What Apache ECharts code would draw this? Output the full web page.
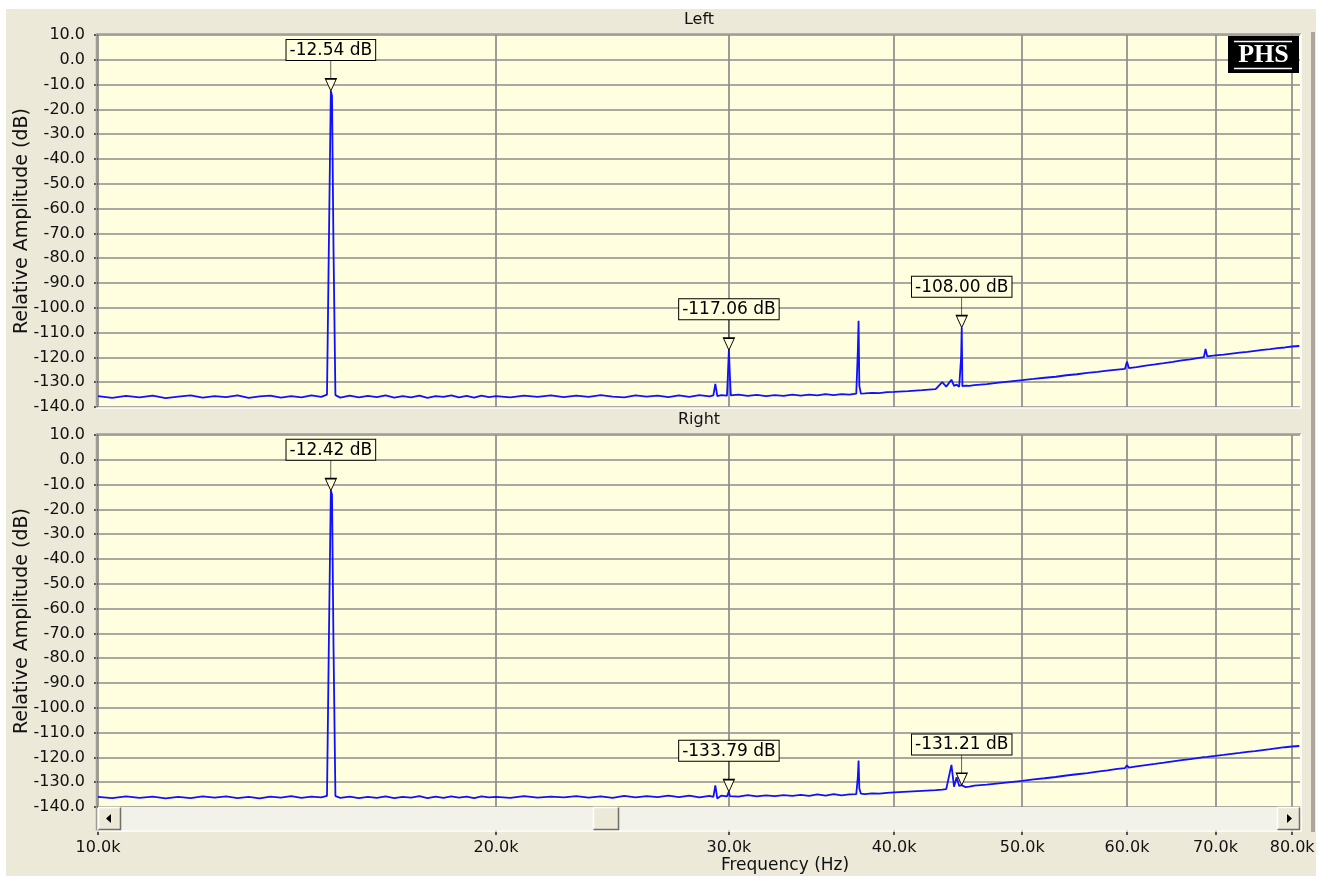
<!DOCTYPE html>
<html>
<head>
<meta charset="utf-8">
<script src="https://cdn.jsdelivr.net/npm/echarts@6/dist/echarts.min.js"></script>
<style>
html, body { margin: 0; padding: 0; background: #ffffff; }
#chart { width: 1331px; height: 876px; }
</style>
</head>
<body>
<div id="chart"></div>
<script>
// Frequency of each spectrum bin, in kHz (shared by both channels)
const freqK = [
  10.00, 10.25, 10.50, 10.75, 11.00, 11.25, 11.50, 11.75, 12.00, 12.25,
  12.50, 12.75, 13.00, 13.25, 13.50, 13.75, 14.00, 14.25, 14.50, 14.75,
  14.90, 14.95, 15.00, 15.03, 15.07, 15.12, 15.25, 15.50, 15.75, 16.00,
  16.25, 16.50, 16.75, 17.00, 17.25, 17.50, 17.75, 18.00, 18.25, 18.50,
  18.75, 19.00, 19.25, 19.50, 19.75, 20.00, 20.50, 21.00, 21.50, 22.00,
  22.50, 23.00, 23.50, 24.00, 24.50, 25.00, 25.50, 26.00, 26.50, 27.00,
  27.50, 28.00, 28.50, 29.00, 29.20, 29.30, 29.40, 29.60, 29.90, 29.95,
  30.00, 30.05, 30.10, 30.50, 31.00, 31.50, 32.00, 32.50, 33.00, 33.50,
  34.00, 34.50, 35.00, 35.50, 36.00, 36.50, 37.00, 37.45, 37.55, 37.60,
  37.65, 37.75, 38.00, 38.50, 39.00, 39.50, 40.00, 41.00, 42.00, 43.00,
  43.50, 43.80, 44.20, 44.40, 44.60, 44.80, 44.95, 45.00, 45.05, 45.30,
  45.60, 46.00, 47.00, 48.00, 49.00, 50.00, 51.00, 52.00, 53.00, 54.00,
  55.00, 56.00, 57.00, 58.00, 59.00, 59.80, 60.00, 60.20, 61.00, 62.00,
  63.00, 64.00, 65.00, 66.00, 67.00, 68.00, 68.60, 68.80, 69.00, 70.00,
  71.00, 72.00, 73.00, 74.00, 75.00, 76.00, 77.00, 78.00, 79.00, 80.00,
  81.00
];

// Left channel relative amplitude, dB
const leftDb = [
  -135.6, -136.3, -135.5, -136.1, -135.4, -136.4, -135.8, -135.3, -136.2, -135.6,
  -136.0, -135.3, -136.3, -135.7, -135.4, -136.2, -135.6, -136.1, -135.3, -135.9,
  -135.0, -72.7, -12.54, -14.5, -76.5, -135.2, -136.2, -135.4, -136.1, -135.5,
  -136.0, -135.3, -136.2, -135.6, -136.1, -135.4, -136.3, -135.6, -135.9, -135.3,
  -136.1, -135.5, -136.2, -135.4, -136.0, -135.6, -136.1, -135.4, -135.9, -135.3,
  -136.0, -135.4, -135.9, -135.2, -135.8, -136.1, -135.3, -135.8, -135.4, -136.0,
  -135.3, -135.9, -135.2, -135.7, -135.3, -130.7, -135.6, -135.2, -135.4, -126.7,
  -117.06, -127.0, -135.3, -135.0, -135.5, -135.1, -135.6, -135.2, -135.5, -135.0,
  -135.4, -135.0, -135.3, -134.8, -135.2, -134.8, -135.0, -134.6, -117.7, -105.2,
  -131.5, -134.6, -134.5, -134.3, -134.4, -134.0, -133.9, -133.6, -133.2, -132.8,
  -130.0, -131.8, -129.0, -131.5, -131.0, -131.8, -120.0, -108.00, -131.6, -131.4,
  -131.5, -131.2, -130.8, -130.2, -129.7, -129.2, -128.7, -128.2, -127.8, -127.2,
  -126.8, -126.2, -125.8, -125.3, -124.9, -124.6, -121.7, -124.3, -123.9, -123.3,
  -122.8, -122.3, -121.8, -121.2, -120.8, -120.2, -119.9, -116.6, -119.6, -119.2,
  -118.9, -118.5, -118.1, -117.8, -117.4, -117.0, -116.7, -116.3, -116.0, -115.6,
  -115.4
];

// Right channel relative amplitude, dB
const rightDb = [
  -135.9, -136.4, -135.7, -136.3, -135.8, -136.5, -135.9, -136.4, -135.7, -136.2,
  -135.7, -136.4, -135.9, -136.5, -135.8, -136.2, -135.6, -136.3, -135.8, -136.1,
  -135.5, -71.5, -12.42, -14.0, -75.5, -135.6, -136.3, -135.8, -136.4, -135.9,
  -136.3, -135.7, -136.4, -135.9, -136.2, -135.6, -136.4, -135.8, -136.3, -135.7,
  -136.2, -135.8, -136.4, -135.7, -136.1, -135.9, -136.3, -135.6, -136.2, -135.8,
  -136.1, -135.6, -136.2, -135.7, -136.3, -135.5, -136.1, -135.6, -136.0, -135.4,
  -136.0, -135.4, -136.1, -135.5, -135.9, -131.3, -136.6, -135.4, -135.7, -135.2,
  -133.79, -135.6, -135.3, -135.8, -135.2, -135.7, -135.3, -135.6, -135.2, -135.5,
  -135.1, -135.5, -134.9, -135.4, -134.8, -135.3, -134.9, -134.8, -128.0, -121.3,
  -132.5, -134.6, -134.8, -134.5, -134.6, -134.3, -134.1, -133.8, -133.5, -133.2,
  -133.0, -132.8, -123.0, -131.8, -128.0, -131.5, -132.0, -131.21, -131.7, -132.0,
  -131.8, -131.4, -131.0, -130.5, -130.0, -129.5, -128.9, -128.4, -127.9, -127.3,
  -126.8, -126.3, -125.7, -125.2, -124.6, -124.3, -123.2, -124.1, -123.6, -123.1,
  -122.6, -122.1, -121.6, -121.1, -120.7, -120.2, -119.9, -119.1, -119.8, -119.4,
  -119.0, -118.6, -118.2, -117.8, -117.5, -117.1, -116.7, -116.3, -115.9, -115.6,
  -115.4
];

// Bins that carry a level readout
const markerFreqK = [15.00, 30.00, 45.00];

// Axis settings
const xTickK = [10, 20, 30, 40, 50, 60, 70, 80];
const xMinK = 10;
const xMaxK = 81.1;
const yMin = -140;
const yMax = 10;
const yStep = 10;
const panelTitles = ['Left', 'Right'];
const channels = [leftDb, rightDb];

const FONT = '"DejaVu Sans", "Liberation Sans", sans-serif';
const PLOT_BG = '#ffffe0';
const FRAME_BG = '#ece9d8';
const GRID_LINE = '#8c8c8c';
const TRACE = '#1010ff';

const plotLeft = 98, plotRight = 1300;
const panelTops = [35, 435];
const panelH = 372;

const toPairs = vals => freqK.map((f, i) => [f, vals[i]]);
const toMarkers = vals => markerFreqK.map(f => {
  const i = freqK.indexOf(f);
  return { coord: [f, vals[i]], value: vals[i] };
});

const grids = panelTops.map(top => ({
  left: plotLeft, width: plotRight - plotLeft, top: top, height: panelH,
  containLabel: false,
  outerBoundsMode: 'none',
  show: true, backgroundColor: PLOT_BG, borderWidth: 0
}));

const xAxes = panelTops.map((_, g) => ({
  gridIndex: g,
  type: 'log',
  logBase: 10,
  min: xMinK,
  max: xMaxK,
  position: 'bottom',
  offset: g === 1 ? 23 : 0,
  axisLine: { show: false, onZero: false },
  axisTick: {
    show: g === 1, customValues: xTickK, length: 5,
    lineStyle: { color: '#222', width: 1.5 }
  },
  axisLabel: {
    show: g === 1, customValues: xTickK, margin: 10,
    formatter: v => Number(v).toFixed(1) + 'k',
    fontFamily: FONT, fontSize: 16, color: '#111'
  },
  splitLine: { show: true, lineStyle: { color: GRID_LINE, width: 1.7 } },
  minorTick: { show: false },
  minorSplitLine: { show: false }
}));

const yAxes = panelTops.map((_, g) => ({
  gridIndex: g,
  type: 'value',
  min: yMin,
  max: yMax,
  interval: yStep,
  name: 'Relative Amplitude (dB)',
  nameLocation: 'middle',
  nameRotate: 90,
  nameGap: 66,
  nameMoveOverlap: false,
  nameTextStyle: { fontFamily: FONT, fontSize: 19, color: '#111' },
  axisLine: { show: false, onZero: false },
  axisTick: { show: true, length: 4, lineStyle: { color: '#222', width: 1.5 } },
  axisLabel: {
    formatter: v => v.toFixed(1), margin: 13,
    fontFamily: FONT, fontSize: 16, color: '#111'
  },
  splitLine: { show: true, lineStyle: { color: GRID_LINE, width: 1.7 } }
}));

const series = channels.map((vals, g) => ({
  type: 'line',
  name: panelTitles[g],
  xAxisIndex: g,
  yAxisIndex: g,
  data: toPairs(vals),
  symbol: 'none',
  showSymbol: false,
  clip: true,
  lineStyle: { color: TRACE, width: 1.8 },
  z: 3,
  markPoint: {
    symbol: 'path://M5.5,0L5.5,18M0,18L11,18L5.5,30Z',
    symbolSize: [11, 30],
    symbolOffset: [0, -15],
    itemStyle: { color: PLOT_BG, borderColor: '#000', borderWidth: 1 },
    label: {
      show: true,
      position: 'top',
      distance: 0,
      formatter: p => Number(p.value).toFixed(2) + ' dB',
      fontFamily: FONT,
      fontSize: 17,
      color: '#000',
      backgroundColor: PLOT_BG,
      borderColor: '#000',
      borderWidth: 1,
      padding: [2, 3, 1, 3]
    },
    data: toMarkers(vals)
  }
}));

// Window furniture: frame, panel captions, bevels, logo and scroll bar
function bevel(x0, y0, x1, y1, light, dark, z) {
  return [
    { type: 'polyline', z: z, silent: true,
      shape: { points: [[x0, y1], [x0, y0], [x1, y0]] },
      style: { stroke: dark, lineWidth: 1.5, fill: null } },
    { type: 'polyline', z: z, silent: true,
      shape: { points: [[x1, y0], [x1, y1], [x0, y1]] },
      style: { stroke: light, lineWidth: 1.5, fill: null } }
  ];
}

function button(x, y, w, h, z) {
  return [
    { type: 'rect', z: z, silent: true, shape: { x: x, y: y, width: w, height: h },
      style: { fill: FRAME_BG } },
    ...bevel(x + 0.5, y + 0.5, x + w - 0.5, y + h - 0.5, '#716f64', '#ffffff', z + 1)
  ];
}

const sbTop = 807, sbH = 23;
const graphics = [
  { type: 'rect', z: -10, silent: true, shape: { x: 6, y: 9, width: 1310, height: 867 },
    style: { fill: FRAME_BG } },
  { type: 'rect', z: -9, silent: true, shape: { x: 1311, y: 32, width: 4, height: 800 },
    style: { fill: '#aca899' } },
  ...panelTops.map((top, g) => ({
    type: 'text', z: 5, silent: true, x: (plotLeft + plotRight) / 2, y: top - 15,
    style: { text: panelTitles[g], font: '16px ' + FONT, fill: '#111',
      align: 'center', verticalAlign: 'middle' }
  })),
  ...bevel(96.5, 34, 1301, 408, '#ffffff', '#a09d92', 4),
  ...bevel(96.5, 434, 1301, 831, '#ffffff', '#a09d92', 4),
  // scroll bar under the lower panel
  { type: 'rect', z: 20, silent: true, shape: { x: plotLeft, y: sbTop, width: plotRight - plotLeft, height: sbH },
    style: { fill: '#f2f1ea' } },
  ...button(plotLeft, sbTop, 23, sbH, 21),
  { type: 'polygon', z: 23, silent: true, shape: { points: [[106, 818.5], [111, 814], [111, 823]] },
    style: { fill: '#000' } },
  ...button(593, sbTop, 26, sbH, 21),
  ...button(plotRight - 23, sbTop, 23, sbH, 21),
  { type: 'polygon', z: 23, silent: true, shape: { points: [[1292, 818.5], [1287, 814], [1287, 823]] },
    style: { fill: '#000' } },
  { type: 'text', z: 5, silent: true, x: 785, y: 866,
    style: { text: 'Frequency (Hz)', font: '17px ' + FONT, fill: '#111',
      align: 'center', verticalAlign: 'middle' } },
  // logo
  { type: 'rect', z: 30, silent: true, shape: { x: 1228, y: 36, width: 71, height: 37 },
    style: { fill: '#000' } },
  { type: 'line', z: 31, silent: true, shape: { x1: 1234, y1: 41.5, x2: 1292, y2: 41.5 },
    style: { stroke: '#fff', lineWidth: 1.5 } },
  { type: 'line', z: 31, silent: true, shape: { x1: 1234, y1: 68.5, x2: 1292, y2: 68.5 },
    style: { stroke: '#fff', lineWidth: 1.5 } },
  { type: 'text', z: 31, silent: true, x: 1263.5, y: 55.5,
    style: { text: 'PHS', font: 'bold 26px "Liberation Serif", "DejaVu Serif", serif', fill: '#fff',
      align: 'center', verticalAlign: 'middle' } }
];

const chart = echarts.init(document.getElementById('chart'), null, { renderer: 'canvas' });
chart.setOption({
  backgroundColor: '#ffffff',
  animation: false,
  grid: grids,
  xAxis: xAxes,
  yAxis: yAxes,
  series: series,
  graphic: { elements: graphics }
});
</script>
</body>
</html>
